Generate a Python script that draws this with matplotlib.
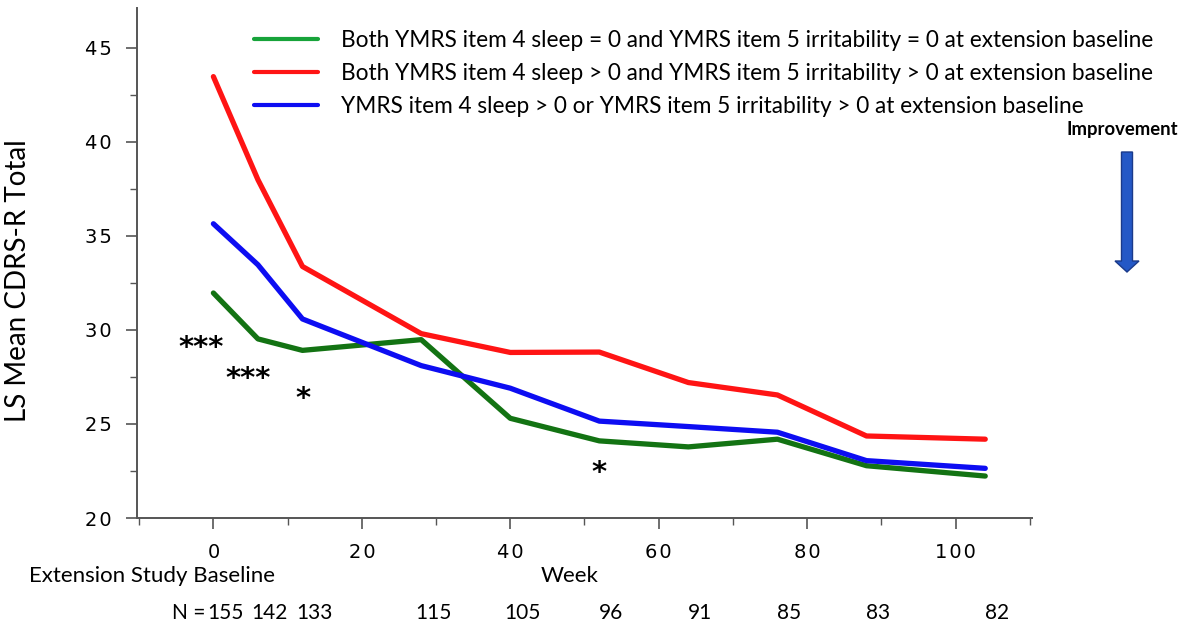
import matplotlib.pyplot as plt
from matplotlib import transforms
from matplotlib.patches import FancyArrow
from matplotlib.ticker import FuncFormatter

weeks = [0, 6, 12, 28, 40, 52, 64, 76, 88, 104]
both_zero = [31.96, 29.52, 28.91, 29.48, 25.3, 24.1, 23.78, 24.19, 22.78, 22.23]
both_pos = [43.46, 37.98, 33.37, 29.8, 28.8, 28.82, 27.2, 26.54, 24.36, 24.19]
either_pos = [35.64, 33.46, 30.58, 28.1, 26.9, 25.15, 24.86, 24.56, 23.05, 22.64]
n_subjects = [155, 142, 133, 115, 105, 96, 91, 85, 83, 82]

# significance marks: (week, y, text)
stars = [(-1.6, 29.05, "***"), (4.7, 27.4, "***"), (12.1, 26.35, "*"), (52.0, 22.4, "*")]

labels = [
    "Both YMRS item 4 sleep = 0 and YMRS item 5 irritability = 0 at extension baseline",
    "Both YMRS item 4 sleep > 0 and YMRS item 5 irritability > 0 at extension baseline",
    "YMRS item 4 sleep > 0 or YMRS item 5 irritability > 0 at extension baseline",
]

txt_font = "Lato"
tick_font = "DejaVu Sans"

fig = plt.figure(figsize=(11.91, 6.26), dpi=100)
ax = fig.add_axes([0.115, 0.1725, 0.7515, 0.8145])

lw = 3.8
l1, = ax.plot(weeks, both_zero, color="#137313", lw=lw, solid_capstyle="round")
l2, = ax.plot(weeks, both_pos, color="#ff1414", lw=lw, solid_capstyle="round")
l3, = ax.plot(weeks, either_pos, color="#0d0df2", lw=lw, solid_capstyle="round")

ax.set_xlim(-10.3, 110.3)
ax.set_ylim(20, 47.1)
ax.set_xticks(range(0, 101, 20))
ax.set_xticks(range(-10, 111, 20), minor=True)
ax.set_yticks(range(20, 46, 5))
ax.set_yticks([22.5, 27.5, 32.5, 37.5, 42.5], minor=True)
# the original uses letter-spaced digits on the axes
spaced = FuncFormatter(lambda v, p: "\u200a".join(str(int(v))))
ax.xaxis.set_major_formatter(spaced)
ax.yaxis.set_major_formatter(spaced)
for s in ["top", "right"]:
    ax.spines[s].set_visible(False)
for s in ["left", "bottom"]:
    ax.spines[s].set_color("#555555")
    ax.spines[s].set_linewidth(1.4)
ax.tick_params(which="major", length=8, width=1.2, color="#555555", pad=10)
ax.tick_params(which="minor", length=5, width=1.0, color="#555555")
for t in ax.get_xticklabels() + ax.get_yticklabels():
    t.set_fontfamily(tick_font)
    t.set_fontsize(14)

ax.set_ylabel("LS Mean CDRS-R Total", fontsize=20, family=txt_font)
ax.yaxis.set_label_coords(-0.118, 0.465)

for x, y, s in stars:
    ax.text(x, y, s, ha="center", va="center", fontsize=21, fontweight="bold",
            family=tick_font)

# N row below the axis
off = transforms.offset_copy(ax.transData, fig=fig, x=12, y=0, units="dots")
row = transforms.blended_transform_factory(off, fig.transFigure)
for w, n in zip(weeks, n_subjects):
    ax.text(w, 0.021, str(n), transform=row, ha="center", va="center",
            fontsize=15, family=txt_font)
fig.text(205 / 1191, 0.021, "N =", ha="right", va="center", fontsize=15, family=txt_font)
fig.text(152 / 1191, 0.08, "Extension Study Baseline", ha="center", va="center",
         fontsize=16, family=txt_font)
fig.text(570 / 1191, 0.08, "Week", ha="center", va="center", fontsize=16, family=txt_font)

fig.legend([l1, l2, l3], labels, loc="upper left", bbox_to_anchor=(232 / 1191, 1 - 8 / 626),
           frameon=False, prop={"family": txt_font, "size": 16.3},
           handlelength=2.85, handletextpad=1.0, labelspacing=0.54, borderpad=0.45)
for h in fig.legends[0].legend_handles:
    h.set_linewidth(3)
fig.legends[0].legend_handles[0].set_color("#17a33a")

fig.text(1178 / 1191, 1 - 130 / 626, "Improvement", ha="right", va="center",
         fontsize=13.3, fontweight="bold", family=txt_font)
fig.patches.append(FancyArrow(1127 / 1191, 1 - 152 / 626, 0, -120 / 626, width=11 / 1191,
                              head_width=24 / 1191, head_length=11 / 626,
                              length_includes_head=True, transform=fig.transFigure,
                              facecolor="#2458c6", edgecolor="#1a3a8a", lw=1))

plt.savefig("out.png", dpi=100)
